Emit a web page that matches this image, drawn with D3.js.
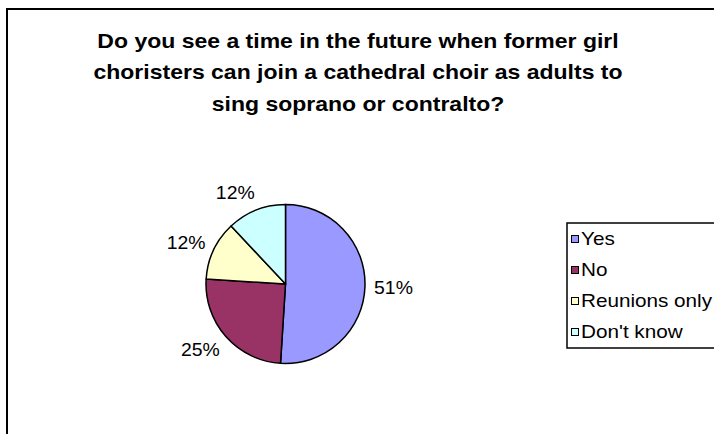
<!DOCTYPE html>
<html>
<head>
<meta charset="utf-8">
<script src="https://cdn.jsdelivr.net/npm/d3@7"></script>
<style>
  html, body { margin: 0; padding: 0; background: #fff; }
  svg { display: block; }
  text { font-family: "Liberation Sans", Arial, sans-serif; fill: #000; }
</style>
</head>
<body>
<svg id="chart" width="714" height="434"></svg>
<script>
// Survey answers (percent of respondents)
const categories = ["Yes", "No", "Reunions only", "Don't know"];
const values = [51, 25, 12, 12];
const colors = ["#9999ff", "#993366", "#ffffcc", "#ccffff"];
const titleLines = [
  "Do you see a time in the future when former girl",
  "choristers can join a cathedral choir as adults to",
  "sing soprano or contralto?"
];

const svg = d3.select("#chart");
const W = 714, H = 434;
// Text in this chart is drawn slightly wide
const stretch = 1.15;

// Chart frame (runs off the right and bottom edges)
svg.append("rect")
  .attr("x", 7).attr("y", 9)
  .attr("width", W + 20).attr("height", H + 20)
  .attr("fill", "#fff")
  .attr("stroke", "#000")
  .attr("stroke-width", 2);

// Title
svg.append("g").selectAll("text")
  .data(titleLines)
  .join("text")
  .attr("transform", (d, i) => `translate(358,${47.5 + i * 31.5}) scale(${stretch},1)`)
  .attr("text-anchor", "middle")
  .style("font-weight", "bold")
  .style("font-size", "20px")
  .text(d => d);

// Pie
const cx = 285.5, cy = 284, r = 79.5;
const pie = d3.pie().sort(null).value(d => d.value);
const data = categories.map((c, i) => ({ name: c, value: values[i], color: colors[i] }));
const arcs = pie(data);
const total = d3.sum(values);

const arc = d3.arc().innerRadius(0).outerRadius(r);

const g = svg.append("g").attr("transform", `translate(${cx},${cy})`);
g.selectAll("path.slice")
  .data(arcs)
  .join("path")
  .attr("class", "slice")
  .attr("d", arc)
  .attr("fill", d => d.data.color)
  .attr("stroke", "#000")
  .attr("stroke-width", 1.5)
  .attr("stroke-linejoin", "round");

// Percent labels: placed just outside the rim, pushed outward by half their box
const labelScale = 1.05, labelH = 14, gap = 12;
const labels = g.selectAll("text.lbl")
  .data(arcs)
  .join("text")
  .attr("class", "lbl")
  .attr("text-anchor", "middle")
  .attr("dy", "0.36em")
  .style("font-size", "18.5px")
  .text(d => Math.round(d.data.value / total * 100) + "%");
labels.attr("transform", function(d) {
  const a = (d.startAngle + d.endAngle) / 2;
  const dx = Math.sin(a), dy = -Math.cos(a);
  const w = this.getComputedTextLength() * labelScale;
  const x = (r + gap) * dx + Math.sign(dx) * w / 2 * 0.85;
  const y = (r + gap) * dy + dy * labelH / 2;
  return `translate(${x},${y}) scale(${labelScale},1)`;
});

// Legend
const lx = 567, ly = 223, lh = 125;
svg.append("rect")
  .attr("x", lx).attr("y", ly)
  .attr("width", 200).attr("height", lh)
  .attr("fill", "#fff")
  .attr("stroke", "#000")
  .attr("stroke-width", 1.5);

const items = svg.append("g").selectAll("g")
  .data(data)
  .join("g")
  .attr("transform", (d, i) => `translate(${lx}, ${ly + 16 + i * 31})`);
items.append("rect")
  .attr("x", 4.5).attr("y", -3.5)
  .attr("width", 7).attr("height", 7)
  .attr("fill", d => d.color)
  .attr("stroke", "#000")
  .attr("stroke-width", 1);
items.append("text")
  .attr("transform", `translate(14,0) scale(${stretch},1)`)
  .attr("dy", "0.36em")
  .style("font-size", "18px")
  .text(d => d.name);
</script>
</body>
</html>
